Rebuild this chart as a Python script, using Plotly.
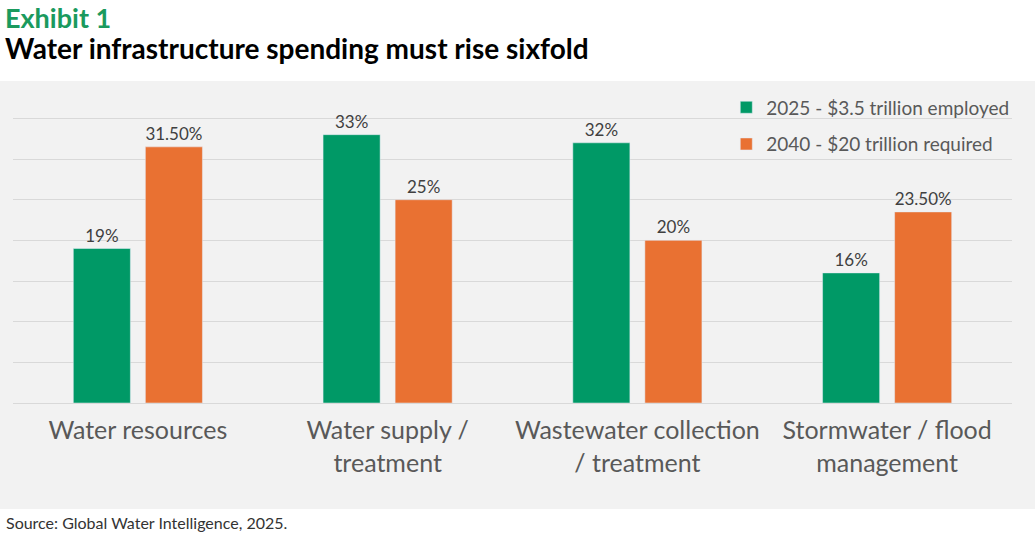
import plotly.graph_objects as go

# datos
categorias = ["Water resources", "Water supply /<br>treatment",
              "Wastewater collection<br>/ treatment", "Stormwater / flood<br>management"]
valores_2025 = [19, 33, 32, 16]
valores_2040 = [31.5, 25, 20, 23.5]
etiquetas_2025 = ["19%", "33%", "32%", "16%"]
etiquetas_2040 = ["31.50%", "25%", "20%", "23.50%"]
nombres = ["2025 - $3.5 trillion employed", "2040 - $20 trillion required"]

verde = "#009966"
naranja = "#E97132"
fuente = "Lato, 'Noto Sans', sans-serif"

fig = go.Figure()
fig.add_trace(go.Bar(x=categorias, y=valores_2025, name=nombres[0], marker_color=verde,
                     text=etiquetas_2025, textposition="outside", legendgroup="a",
                     textfont=dict(size=17, color="#404040")))
fig.add_trace(go.Bar(x=categorias, y=valores_2040, name=nombres[1], marker_color=naranja,
                     text=etiquetas_2040, textposition="outside", legendgroup="b",
                     textfont=dict(size=17, color="#404040")))

# fondo gris detras del grafico y las etiquetas
fig.add_shape(type="rect", xref="paper", yref="paper", x0=-0.02, x1=1.03, y0=-0.329, y1=1.0,
              fillcolor="#F2F2F2", line_width=0, layer="below")

fig.add_annotation(text="<b>Exhibit 1</b>", xref="paper", yref="paper", x=-0.009, y=1.2516,
                   xanchor="left", yanchor="top", showarrow=False, borderpad=0,
                   font=dict(size=27, color="#1A9A5E", family=fuente))
fig.add_annotation(text="<b>Water infrastructure spending must rise sixfold</b>", xref="paper", yref="paper",
                   x=-0.009, y=1.102, xanchor="left", yanchor="middle", showarrow=False, borderpad=0,
                   font=dict(size=28, color="#000000", family=fuente))
fig.add_annotation(text="Source: Global Water Intelligence, 2025.", xref="paper", yref="paper",
                   x=-0.009, y=-0.37, xanchor="left", yanchor="middle", showarrow=False,
                   font=dict(size=16, color="#333333", family=fuente))

fig.update_layout(
    width=1035, height=535,
    margin=dict(l=13, r=23, t=81, b=132),
    paper_bgcolor="white", plot_bgcolor="rgba(0,0,0,0)",
    font=dict(family=fuente, color="#595959"),
    barmode="group", bargap=0.423, bargroupgap=0.208,
    showlegend=True,
    legend=dict(x=0.714, y=0.977, xanchor="left", yanchor="top", bgcolor="rgba(0,0,0,0)",
                font=dict(size=19, color="#595959"), tracegroupgap=9, traceorder="grouped",
                itemwidth=30),
    xaxis=dict(tickfont=dict(size=25, color="#595959"), showline=False, ticks="", showgrid=False,
               ticklabelstandoff=10),
    yaxis=dict(range=[0, 39.6], dtick=5, showticklabels=False, gridcolor="#D9D9D9",
               gridwidth=1, zeroline=True, zerolinecolor="#D9D9D9", zerolinewidth=1),
)

# quitar el margen del body para que el grafico empiece en la esquina
fig.write_html("out.html", config={"displayModeBar": False},
               post_script="document.body.style.margin='0';")
